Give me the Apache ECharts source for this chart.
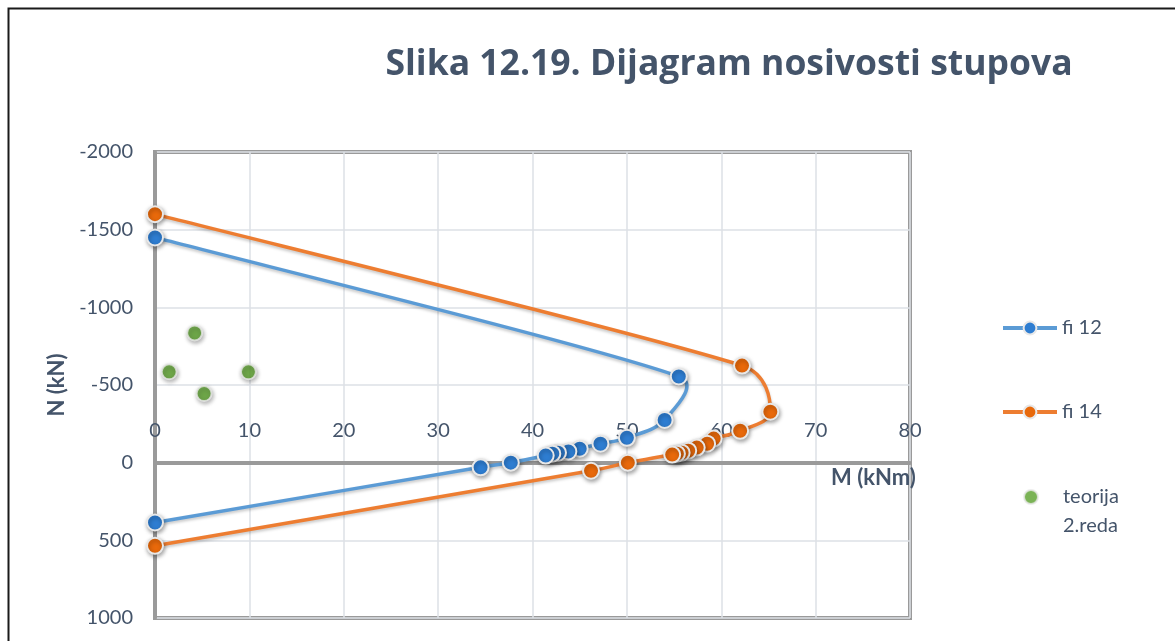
<!DOCTYPE html>
<html>
<head>
<meta charset="utf-8">
<title>Dijagram nosivosti stupova</title>
<script src="https://cdn.jsdelivr.net/npm/echarts@6/dist/echarts.min.js"></script>
<style>
  html, body { margin: 0; padding: 0; background: #fff; }
  #chart { width: 1175px; height: 641px; }
</style>
</head>
<body>
<div id="chart"></div>
<script>
// Interaction diagram: bending moment M (kNm) vs axial force N (kN)
const titleText = 'Slika 12.19. Dijagram nosivosti stupova';

// Series "fi 12"
const mFi12 = [0, 55.5, 54.0, 50.0, 47.2, 45.0, 43.8, 42.7, 42.1, 41.4, 37.7, 34.5, 0];
const nFi12 = [-1450, -555, -275, -160, -122, -90, -72, -64, -58, -46, 0, 30, 385];

// Series "fi 14"
const mFi14 = [0, 62.2, 65.2, 62.0, 59.2, 58.5, 57.4, 56.5, 55.8, 55.3, 54.8, 50.1, 46.2, 0];
const nFi14 = [-1600, -625, -328, -205, -155, -122, -97, -77, -64, -58, -52, 0, 52, 535];

// Series "teorija 2.reda"
const mTeorija = [4.2, 1.5, 9.9, 5.2];
const nTeorija = [-835, -585, -585, -445];

// Axis ranges
const xMin = 0, xMax = 80, xStep = 10;
const yMin = -2000, yMax = 1000, yStep = 500;

const pairs = (xs, ys) => xs.map((x, i) => [x, ys[i]]);

const FONT = 'Lato, "Open Sans", sans-serif';
const TEXT = '#44546A';
const BLUE_LINE = '#5B9BD5', BLUE_DOT = '#2E7DD1';
const ORANGE_LINE = '#ED7D31', ORANGE_DOT = '#E8690B';
const GREEN_DOT = '#5AA02C';

// Plot rectangle
const GRID = { left: 155, right: 265, top: 152, bottom: 23 };
const CH = 641;
const plotH = CH - GRID.top - GRID.bottom;
// distance from the N = 0 line to the bottom edge of the plot
const zeroToBottom = plotH * (yMax - 0) / (yMax - yMin);

// Smoothed path through pixel points: cubic Bezier segments whose control
// points follow the neighbouring chord (1/6 tension), limited to half of
// the segment length so short segments do not overshoot.
function smoothPath(p) {
  const dist = (a, b) => Math.hypot(b[0] - a[0], b[1] - a[1]);
  let d = 'M' + p[0][0] + ',' + p[0][1];
  for (let i = 0; i < p.length - 1; i++) {
    const p0 = p[Math.max(i - 1, 0)], p1 = p[i], p2 = p[i + 1], p3 = p[Math.min(i + 2, p.length - 1)];
    const d12 = dist(p1, p2), d02 = dist(p0, p2), d13 = dist(p1, p3);
    let f0 = 1 / 6, f1 = 1 / 6;
    if (d02 > 0 && d02 / 6 >= d12 / 2) f0 = d12 / d02 / 2;
    if (d13 > 0 && d13 / 6 >= d12 / 2) f1 = d12 / d13 / 2;
    const c1 = [p1[0] + (p2[0] - p0[0]) * f0, p1[1] + (p2[1] - p0[1]) * f0];
    const c2 = [p2[0] - (p3[0] - p1[0]) * f1, p2[1] - (p3[1] - p1[1]) * f1];
    d += ' C' + c1[0] + ',' + c1[1] + ' ' + c2[0] + ',' + c2[1] + ' ' + p2[0] + ',' + p2[1];
  }
  return d;
}

function curveSeries(id, xs, ys, color) {
  return {
    id: id,
    type: 'custom',
    data: pairs(xs, ys),
    silent: true,
    z: 2,
    renderItem: function (params, api) {
      if (params.dataIndex !== 0) return null;
      const pts = xs.map((x, i) => api.coord([x, ys[i]]));
      return {
        type: 'path',
        shape: { pathData: smoothPath(pts) },
        style: {
          fill: null, stroke: color, lineWidth: 3.5, lineJoin: 'round', lineCap: 'round',
          shadowColor: 'rgba(0,0,0,0.22)', shadowBlur: 3, shadowOffsetY: 2
        }
      };
    }
  };
}

const markerShadow = {
  shadowColor: 'rgba(0,0,0,0.35)',
  shadowBlur: 4,
  shadowOffsetX: 1,
  shadowOffsetY: 2
};

const legendText = { fontFamily: FONT, fontSize: 20, color: TEXT };
const legendLine = { width: 4, opacity: 1 };

const chart = echarts.init(document.getElementById('chart'), null, { renderer: 'canvas' });

chart.setOption({
  backgroundColor: '#fff',
  animation: false,
  textStyle: { fontFamily: FONT },
  title: {
    text: titleText,
    left: 724,
    top: 42,
    textAlign: 'center',
    textStyle: { fontFamily: '"Open Sans", sans-serif', fontWeight: 'bold', fontSize: 35.5, color: TEXT }
  },
  graphic: [{
    type: 'polyline',
    shape: { points: [[8.5, 700], [8.5, 8.5], [1200, 8.5]] },
    style: { stroke: '#1a1a1a', lineWidth: 2, fill: null },
    silent: true
  }],
  grid: Object.assign({
    show: true, borderColor: '#9a9a9a', borderWidth: 4, backgroundColor: 'transparent'
  }, GRID),
  legend: [
    {
      data: ['fi 12'], orient: 'vertical', left: 996, top: 313,
      itemWidth: 54, itemHeight: 16,
      lineStyle: legendLine,
      textStyle: legendText
    },
    {
      data: ['fi 14'], orient: 'vertical', left: 996, top: 397,
      itemWidth: 54, itemHeight: 16,
      lineStyle: legendLine,
      textStyle: legendText
    },
    {
      data: ['teorija 2.reda'], orient: 'vertical', left: 1018, top: 453,
      itemWidth: 54, itemHeight: 14,
      formatter: () => '{p| }\n{t|teorija}\n{t|2.reda}',
      textStyle: Object.assign({
        rich: {
          p: { lineHeight: 29, fontSize: 20 },
          t: { lineHeight: 29, fontSize: 20, fontFamily: FONT, color: TEXT }
        }
      }, legendText)
    }
  ],
  xAxis: {
    type: 'value',
    min: xMin, max: xMax, interval: xStep,
    name: 'M (kNm)',
    nameLocation: 'end',
    nameGap: -79,
    nameTextStyle: {
      fontFamily: FONT, fontWeight: 'bold', fontSize: 22, color: TEXT,
      align: 'left', verticalAlign: 'top', padding: [4, 0, 0, 0]
    },
    axisLine: { onZero: true, lineStyle: { color: '#9a9a9a', width: 4 } },
    axisTick: { show: false },
    // labels sit just above the N = 0 line
    axisLabel: { inside: true, margin: 22 + zeroToBottom, fontFamily: FONT, fontSize: 20, color: TEXT },
    splitLine: { show: true, lineStyle: { color: '#DCE0E6', width: 1.5 } }
  },
  yAxis: {
    type: 'value',
    inverse: true,
    min: yMin, max: yMax, interval: yStep,
    name: 'N (kN)',
    nameLocation: 'middle',
    nameGap: 84,
    nameTextStyle: { fontFamily: FONT, fontWeight: 'bold', fontSize: 22, color: TEXT },
    axisLine: { onZero: false, lineStyle: { color: '#9a9a9a', width: 4 } },
    axisTick: { show: false },
    axisLabel: { margin: 22, fontFamily: FONT, fontSize: 20, color: TEXT, formatter: v => String(v) },
    splitLine: { show: true, lineStyle: { color: '#DCE0E6', width: 1.5 } }
  },
  series: [
    curveSeries('fi12-curve', mFi12, nFi12, BLUE_LINE),
    curveSeries('fi14-curve', mFi14, nFi14, ORANGE_LINE),
    {
      name: 'fi 12',
      type: 'line',
      data: pairs(mFi12, nFi12),
      symbol: 'circle',
      symbolSize: 16,
      lineStyle: { color: BLUE_LINE, width: 3.5, opacity: 0 },
      itemStyle: Object.assign({ color: BLUE_DOT, borderColor: '#E8E8E8', borderWidth: 2 }, markerShadow),
      z: 3
    },
    {
      name: 'fi 14',
      type: 'line',
      data: pairs(mFi14, nFi14),
      symbol: 'circle',
      symbolSize: 16,
      lineStyle: { color: ORANGE_LINE, width: 3.5, opacity: 0 },
      itemStyle: Object.assign({ color: ORANGE_DOT, borderColor: '#E8E8E8', borderWidth: 2 }, markerShadow),
      z: 3
    },
    {
      name: 'teorija 2.reda',
      type: 'scatter',
      data: pairs(mTeorija, nTeorija),
      symbol: 'circle',
      symbolSize: 15,
      itemStyle: Object.assign({ color: GREEN_DOT, borderColor: '#E8E8E8', borderWidth: 2 }, markerShadow),
      z: 3
    }
  ]
});
</script>
</body>
</html>
